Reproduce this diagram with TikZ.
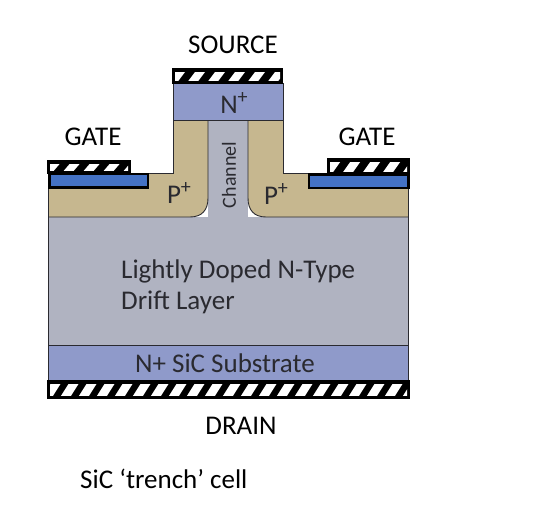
\documentclass[tikz,border=0pt]{standalone}
\usepackage{fontspec}
\setmainfont{Carlito}
\definecolor{ptan}{HTML}{C6B78F}
\definecolor{driftgray}{HTML}{B0B3C1}
\definecolor{nplus}{HTML}{8F9ACA}
\definecolor{oxide}{HTML}{4472C4}
\definecolor{inkgray}{HTML}{2A2A30}
\tikzset{
  lbl/.style={font=\fontsize{27}{29}\selectfont, text=black, inner sep=0pt},
  devlbl/.style={lbl, text=inkgray},
  edge/.style={draw=inkgray, line width=0.9pt}
}
\newcommand{\supplus}{\raisebox{0.36em}{\fontsize{20}{20}\selectfont+}}
% metal contact: black bar with slanted white stripes
\newcommand{\contactbar}[5]{%
  \fill[black] (#1,#2) rectangle (#3,#4);
  \begin{scope}
    \clip (#1+3,#2+4) rectangle (#3-3,#4-4);
    \foreach \xs in {#1,#5,...,#3}
      \fill[white] (\xs-6,#4) -- (\xs+4,#4) -- (\xs+16,#2) -- (\xs+6,#2) -- cycle;
  \end{scope}
}
\begin{document}
\begin{tikzpicture}[x=1pt, y=-1pt]
\useasboundingbox (0,0) rectangle (540,522);
\fill[white] (0,0) rectangle (540,522);

% ── Drift layer with channel ───────────────────────────────
\fill[driftgray] (48,217) rectangle (408,345);
\fill[driftgray] (208,120) rectangle (248,218);

% ── P+ body ────────────────────────────────────────────────
\fill[ptan] (48,173) -- (173,173) -- (173,120) -- (208,120) -- (208,198)
  .. controls (208,210) and (202,217) .. (190,217)
  -- (48,217) -- cycle;
\fill[ptan] (408,173) -- (283,173) -- (283,120) -- (248,120) -- (248,198)
  .. controls (248,210) and (254,217) .. (266,217)
  -- (408,217) -- cycle;
\draw[edge] (208,120) -- (208,198)
  .. controls (208,210) and (202,217) .. (190,217) -- (48,217);
\draw[edge] (248,120) -- (248,198)
  .. controls (248,210) and (254,217) .. (266,217) -- (408,217);
\draw[edge] (48,173) -- (173,173) -- (173,120);
\draw[edge] (408,173) -- (283,173) -- (283,120);

% ── N+ regions ─────────────────────────────────────────────
\fill[nplus] (173,83) rectangle (283,120);
\draw[edge] (173,83) rectangle (283,120);
\fill[nplus] (48,345) rectangle (408,381);
\draw[edge] (48,345) -- (408,345);

% outer side walls
\draw[edge] (48,173) -- (48,381);
\draw[edge] (408,173) -- (408,381);

% ── Gate oxide ─────────────────────────────────────────────
\fill[oxide, draw=black, line width=2.6pt] (49.3,174) rectangle (148,187.5);
\fill[oxide, draw=black, line width=2.6pt] (309,174.5) rectangle (408.7,188);

% ── Contacts ───────────────────────────────────────────────
\contactbar{172}{68}{283}{84}{192}
\contactbar{47}{160}{131}{174}{67}
\contactbar{327}{158}{410}{175}{347}
\contactbar{47}{380}{410}{399}{65}

% ── Labels ─────────────────────────────────────────────────
\node[lbl] (source) at (233,45) {SOURCE};
\node[lbl] (gateL) at (93,137) {GATE};
\node[lbl] (gateR) at (367,137) {GATE};
\node[lbl] (drain) at (241,426) {DRAIN};
\node[devlbl] (nsrc) at (234,103) {N\supplus};
\node[devlbl] (pL) at (179,193) {P\supplus};
\node[devlbl] (pR) at (276,194) {P\supplus};
\node[devlbl, font=\fontsize{20}{22}\selectfont, rotate=90] (chan) at (229,175) {Channel};
\node[devlbl, anchor=west] (driftA) at (121,271) {Lightly Doped N-Type};
\node[devlbl, anchor=west] (driftB) at (121,302) {Drift Layer};
\node[devlbl] (subs) at (225,363) {N+ SiC Substrate};
\node[lbl, anchor=west] (caption) at (80,479) {SiC ‘trench’ cell};

\end{tikzpicture}
\end{document}
